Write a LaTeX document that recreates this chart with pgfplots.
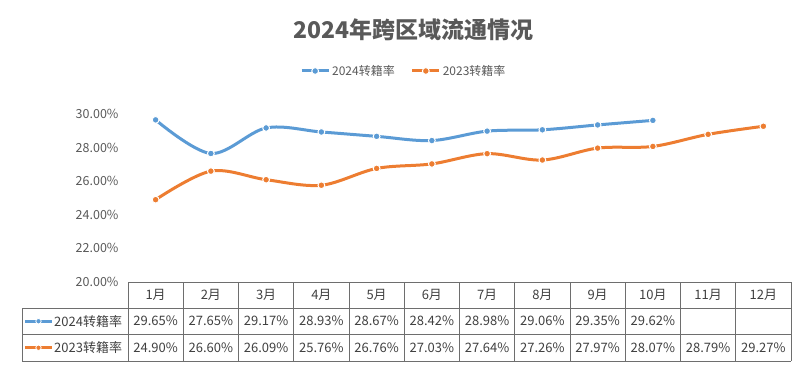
\documentclass[border=0pt]{standalone}
\usepackage{pgfplots}
\pgfplotsset{compat=1.18}
\usepackage{fontspec}
\setmainfont{Noto Sans CJK SC}
\definecolor{cblue}{HTML}{5B9BD5}
\definecolor{corange}{HTML}{ED7D31}
\definecolor{tgray}{HTML}{595959}
\definecolor{ttext}{HTML}{404040}
\definecolor{lgray}{HTML}{6E6E6E}
\begin{document}
\begin{tikzpicture}[x=1pt,y=1pt]
\path (0,0) rectangle (806,-368);
\begin{axis}[
  at={(128pt,-282pt)}, anchor=south west,
  scale only axis, width=663pt, height=168pt,
  xmin=0.5, xmax=12.5, ymin=20, ymax=30,
  axis line style={draw=none},
  xtick=\empty,
  ytick={20,22,24,26,28,30},
  ytick style={draw=none},
  yticklabel={\pgfmathprintnumber[fixed,fixed zerofill,precision=2]{\tick}\%},
  /pgf/number format/assume math mode=true,
  yticklabel style={font=\fontsize{12.5}{14}\selectfont, text=tgray, xshift=-6pt},
  clip=false,
  legend columns=2,
  legend style={at={(0.416,1.256)}, anchor=center, draw=none, fill=none,
    font=\fontsize{12}{14}\selectfont, text=tgray,
    /tikz/every even column/.append style={column sep=14pt}},
  legend image code/.code={\draw[mark repeat=2,mark phase=2,#1,line width=3pt] plot coordinates {(0pt,0pt)(13.5pt,0pt)(27pt,0pt)};},
]
\addplot[cblue, line width=3pt, smooth, tension=0.55, mark=*, mark size=3.4pt,
  mark options={fill=cblue, draw=white, line width=1pt}]
  coordinates {(1,29.65)(2,27.65)(3,29.17)(4,28.93)(5,28.67)(6,28.42)(7,28.98)(8,29.06)(9,29.35)(10,29.62)};
\addlegendentry{2024转籍率}
\addplot[corange, line width=3pt, smooth, tension=0.55, mark=*, mark size=3.4pt,
  mark options={fill=corange, draw=white, line width=1pt}]
  coordinates {(1,24.90)(2,26.60)(3,26.09)(4,25.76)(5,26.76)(6,27.03)(7,27.64)(8,27.26)(9,27.97)(10,28.07)(11,28.79)(12,29.27)};
\addlegendentry{2023转籍率}
\end{axis}
% title
\node[text=tgray, font=\fontsize{23}{27}\selectfont\bfseries] at (413.5,-30) {2024年跨区域流通情况};
% table grid
\begin{scope}[draw=lgray, line width=1pt]
\draw (128,-282) -- (791,-282);
\draw (22,-308) -- (791,-308);
\draw (22,-334.5) -- (791,-334.5);
\draw (22,-361) -- (791,-361);
\draw (22,-308) -- (22,-361);
\foreach \k in {0,...,12} {\draw ({128+\k*55.25},-282) -- ({128+\k*55.25},-361);}
\end{scope}
% table header
\foreach \k in {1,...,12} {\node[text=ttext, font=\fontsize{13}{15}\selectfont] at ({128+(\k-0.5)*55.25},-295) {\k 月};}
% row labels
\draw[cblue, line width=3pt] (25,-321.2) -- (52,-321.2);
\fill[cblue, draw=white, line width=0.8pt] (38.5,-321.2) circle (2.7pt);
\node[anchor=west, inner sep=0pt, text=ttext, font=\fontsize{13}{15}\selectfont] at (54,-321.2) {2024转籍率};
\draw[corange, line width=3pt] (25,-347.7) -- (52,-347.7);
\fill[corange, draw=white, line width=0.8pt] (38.5,-347.7) circle (2.7pt);
\node[anchor=west, inner sep=0pt, text=ttext, font=\fontsize{13}{15}\selectfont] at (54,-347.7) {2023转籍率};
% row values
\foreach \v [count=\k] in {29.65,27.65,29.17,28.93,28.67,28.42,28.98,29.06,29.35,29.62} {
  \node[text=ttext, font=\fontsize{13}{15}\selectfont] at ({128+(\k-0.5)*55.25},-321.2) {\v\%};}
\foreach \v [count=\k] in {24.90,26.60,26.09,25.76,26.76,27.03,27.64,27.26,27.97,28.07,28.79,29.27} {
  \node[text=ttext, font=\fontsize{13}{15}\selectfont] at ({128+(\k-0.5)*55.25},-347.7) {\v\%};}
\end{tikzpicture}
\end{document}
